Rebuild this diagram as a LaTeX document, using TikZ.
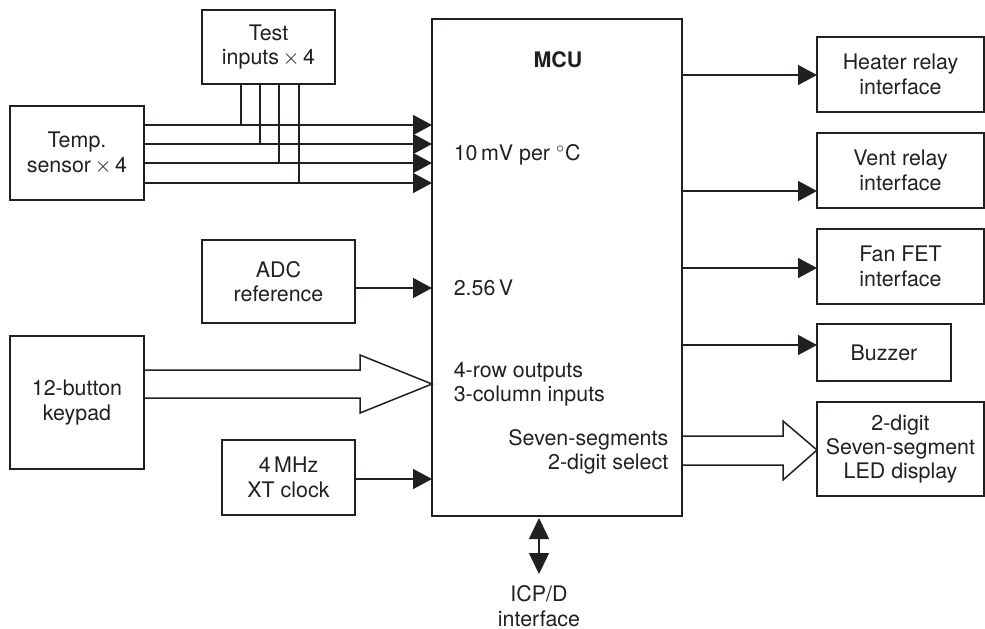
\documentclass[tikz,border=0pt]{standalone}
\usepackage{fontspec}
\setmainfont{TeX Gyre Heros}
\usetikzlibrary{arrows.meta,calc}
\definecolor{ink}{HTML}{231F20}
\begin{document}
\begin{tikzpicture}[x=0.5pt,y=-0.5pt, line width=0.75pt, color=ink,
  font=\fontsize{10.7pt}{12.2pt}\selectfont,
  bx/.style n args={2}{draw, minimum width=#1*0.5pt, minimum height=#2*0.5pt,
    inner sep=0pt, outer sep=0pt, align=center},
  arr/.style={-{Triangle[length=9.5pt,width=10pt]}},
  dbl/.style={{Triangle[length=10.5pt,width=10pt]}-{Triangle[length=10.5pt,width=10pt]}},
  lbl/.style={inner sep=0pt}]
\useasboundingbox (0,0) rectangle (985,628);

% blocks
\node[bx={250}{497}] (mcu) at (557,267.5) {};
\node[font=\fontsize{10.7pt}{12.2pt}\selectfont\bfseries, lbl] (mcutitle) at (558,60) {MCU};
\node[bx={133}{74}] (test) at (268.5,47) {Test\\inputs\,$\times$\,4};
\node[bx={134}{94}] (temp) at (77,153) {Temp.\\sensor\,$\times$\,4};
\node[bx={153}{83}] (adc) at (278.5,281.5) {ADC\\reference};
\node[bx={134}{133}] (keypad) at (77,402.5) {12-button\\keypad};
\node[bx={133}{75}] (clock) at (288.5,477.5) {4\,MHz\\XT clock};
\node[bx={167}{75}] (heater) at (900.5,74.5) {Heater relay\\interface};
\node[bx={167}{75}] (vent) at (900.5,170.5) {Vent relay\\interface};
\node[bx={167}{75}] (fan) at (900.5,266.5) {Fan FET\\interface};
\node[bx={134}{57}] (buzzer) at (884,352.5) {Buzzer};
\node[bx={167}{94}] (display) at (900.5,449) {2-digit\\Seven-segment\\LED display};
\node[lbl, align=center, anchor=north] (icp) at (539,585) {ICP/D\\interface};

% labels inside MCU
\node[lbl, anchor=west] (l10mv) at (453,155) {10\,mV per $^\circ$C};
\node[lbl, anchor=west] (l256) at (453,288) {2.56\,V};
\node[lbl, anchor=west, align=left] (lrow) at (453,384) {4-row outputs\\3-column inputs};
\node[lbl, anchor=east, align=right] (lseg) at (669,452) {Seven-segments\\2-digit select};

% temperature sensor lines and test inputs
\foreach \x/\y in {241/125,260/144,279/163,299/183}{
  \draw (test.south -| \x,0) -- (\x,\y);
  \draw[arr] (temp.east |- 0,\y) -- (mcu.west |- 0,\y);
}

% ADC and clock
\draw[arr] (adc.east |- 0,288) -- (mcu.west |- 0,288);
\draw[arr] (clock.east |- 0,479) -- (mcu.west |- 0,479);

% keypad bus arrow
\draw[line join=miter] (keypad.east |- 0,370) -- (360,370) -- (360,355)
  -- (mcu.west |- 0,384) -- (360,413) -- (360,398) -- (keypad.east |- 0,398);

% outputs
\draw[arr] (mcu.east |- 0,75) -- (heater.west |- 0,75);
\draw[arr] (mcu.east |- 0,191) -- (vent.west |- 0,191);
\draw[arr] (mcu.east |- 0,268) -- (fan.west |- 0,268);
\draw[arr] (mcu.east |- 0,345) -- (buzzer.west |- 0,345);

% display bus arrow
\draw[line join=miter] (mcu.east |- 0,436) -- (783,436) -- (783,421)
  -- (display.west |- 0,450) -- (783,480) -- (783,465) -- (mcu.east |- 0,465);

% ICP
\draw[dbl] ([yshift=-1pt]mcu.south -| icp.north) -- ([yshift=5.5pt]icp.north);
\end{tikzpicture}
\end{document}
